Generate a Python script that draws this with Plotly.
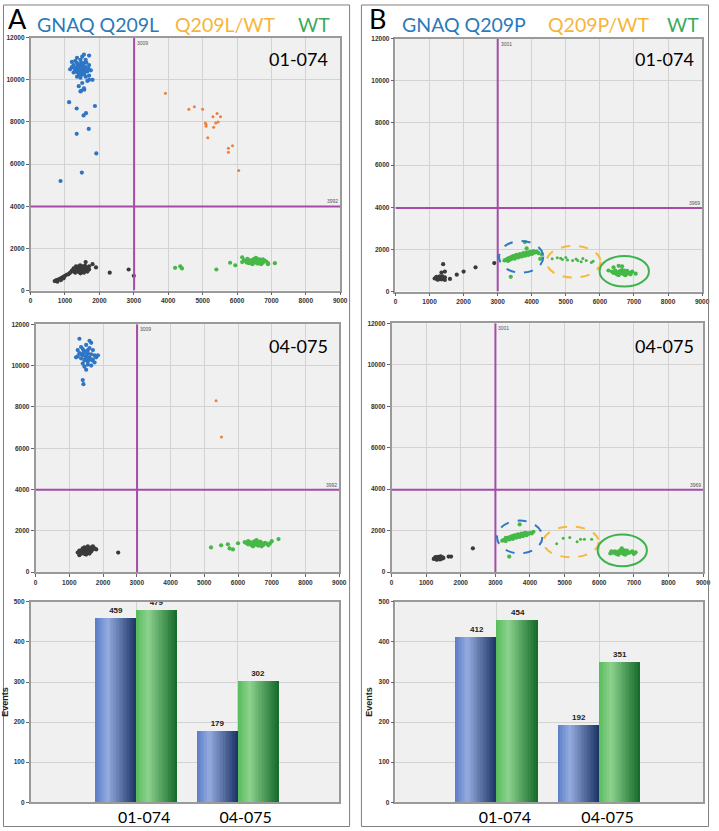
import plotly.graph_objects as go

# ---------------- DATA ----------------
samples = ["01-074", "04-075"]
A_mut_events = [459, 179]
A_wt_events = [479, 302]
B_mut_events = [412, 192]
B_wt_events = [454, 351]

thr_A = (3009, 3992)
thr_B = (3001, 3969)

x_ticks = [0, 1000, 2000, 3000, 4000, 5000, 6000, 7000, 8000, 9000]
y_ticks = [0, 2000, 4000, 6000, 8000, 10000, 12000]
bar_ticks = [0, 100, 200, 300, 400, 500]

# Panel A, sample 01-074
A1_mut_pts = [
    (1450, 10500), (1400, 10450), (1500, 10550), (1350, 10600), (1550, 10400), (1450, 10700), (1400, 10300), (1500, 10250),
    (1600, 10600), (1300, 10450), (1250, 10700), (1350, 10800), (1550, 10800), (1650, 10400), (1700, 10200), (1600, 10150),
    (1450, 10100), (1350, 10150), (1250, 10350), (1200, 10600), (1300, 10900), (1450, 10950), (1600, 10950), (1500, 11100),
    (1350, 11050), (1700, 10700), (1750, 10450), (1800, 10000), (1650, 9950), (1500, 9850), (1400, 9700), (1550, 9600),
    (1450, 9450), (1200, 10850), (1150, 10500), (1550, 11200), (1700, 11150), (1480, 10380), (1420, 10620), (1380, 10520),
    (1520, 10680), (1580, 10480), (1330, 10380), (1470, 10820), (1620, 10820), (1280, 10550), (1430, 10250), (1560, 10300),
    (1680, 10550), (1370, 10700), (1120, 8940), (1340, 8640), (1540, 8310), (1610, 8420), (1340, 7440), (1690, 7670),
    (1870, 8760), (1910, 6510), (1490, 5600), (870, 5200), (1560, 9530), (1470, 9480), (1700, 10000)]
A1_het_pts = [
    (3920, 9370), (4600, 8610), (4760, 8720), (5000, 8610), (5080, 7950), (5100, 7800), (5100, 7880), (5150, 7250),
    (5300, 8250), (5320, 7750), (5380, 7950), (5420, 8400), (5450, 8000), (5520, 8250), (5750, 6750), (5750, 6560),
    (5870, 6870), (6050, 5700)]
A1_neg_pts = [
    (1450, 950), (1400, 1000), (1500, 900), (1350, 950), (1550, 1000), (1450, 1050), (1400, 880), (1500, 1080),
    (1300, 1000), (1600, 950), (1350, 1100), (1550, 850), (1250, 900), (1650, 1050), (1450, 820), (1400, 1150),
    (1500, 1150), (1300, 850), (1600, 1100), (1200, 950), (1700, 1000), (1480, 980), (1420, 930), (1380, 1020),
    (1520, 1030), (1460, 870), (1340, 980), (1560, 920), (1250, 1050), (1650, 900), (1440, 1200), (1580, 1180),
    (1320, 1150), (1700, 1150), (1150, 850), (700, 450), (750, 500), (800, 520), (850, 560), (900, 600),
    (950, 650), (1000, 700), (1050, 750), (1100, 780), (780, 420), (880, 500), (960, 580), (1600, 1350),
    (1800, 1250), (1900, 1100), (2300, 850), (2850, 1000), (3000, 700)]
A1_wt_pts = [
    (6500, 1400), (6400, 1380), (6600, 1420), (6300, 1350), (6700, 1400), (6450, 1450), (6550, 1330), (6350, 1450),
    (6650, 1480), (6750, 1320), (6250, 1400), (6800, 1420), (6500, 1500), (6400, 1300), (6600, 1280), (6200, 1450),
    (6850, 1380), (6300, 1500), (6700, 1250), (6550, 1550), (6450, 1250), (6150, 1350), (6900, 1300), (6350, 1300),
    (6750, 1480), (6480, 1360), (6520, 1440), (6420, 1420), (6580, 1380), (6620, 1350), (6380, 1400), (6680, 1440),
    (6280, 1330), (6720, 1360), (6600, 1480), (6150, 1580), (5800, 1320), (5950, 1200), (7100, 1300), (4200, 1080),
    (4350, 1150), (4400, 1050), (5400, 1000), (6900, 1250)]

# Panel A, sample 04-075
A2_mut_pts = [
    (1500, 10450), (1400, 10500), (1600, 10400), (1350, 10350), (1550, 10600), (1450, 10700), (1650, 10550), (1300, 10600),
    (1700, 10300), (1450, 10250), (1550, 10200), (1400, 10800), (1600, 10850), (1250, 10450), (1750, 10500), (1350, 10900),
    (1500, 11000), (1650, 11100), (1300, 11300), (1550, 10050), (1450, 9950), (1500, 9800), (1650, 10000), (1800, 10400),
    (1850, 10500), (1250, 10750), (1400, 10100), (1600, 11200), (1700, 10750), (1350, 10550), (1480, 10350), (1520, 10520),
    (1580, 10300), (1420, 10620), (1680, 10250), (1400, 9300), (1420, 9100), (1750, 10150), (1200, 10400), (1550, 10750)]
A2_het_pts = [(5350, 8300), (5510, 6540)]
A2_neg_pts = [
    (1500, 1000), (1450, 1050), (1550, 950), (1400, 950), (1600, 1050), (1350, 1000), (1650, 1000), (1500, 1150),
    (1450, 880), (1550, 1100), (1300, 1050), (1700, 1100), (1400, 1150), (1600, 900), (1350, 900), (1250, 950),
    (1750, 1150), (1500, 850), (1650, 1200), (1450, 1200), (1550, 1250), (1800, 1100), (1700, 1250), (1300, 820),
    (1480, 980), (1520, 1020), (1420, 1000), (1580, 1000), (1380, 1080), (1620, 1120), (2450, 950)]
A2_wt_pts = [
    (6500, 1400), (6400, 1380), (6600, 1420), (6300, 1350), (6700, 1400), (6450, 1450), (6550, 1330), (6350, 1450),
    (6650, 1480), (6750, 1320), (6250, 1400), (6800, 1420), (6500, 1500), (6400, 1300), (6600, 1280), (6200, 1450),
    (6850, 1380), (6300, 1500), (6700, 1250), (6550, 1550), (6450, 1250), (6900, 1300), (6480, 1360), (6520, 1440),
    (6420, 1420), (6580, 1380), (6680, 1440), (6720, 1360), (5200, 1200), (5500, 1300), (5700, 1350), (5750, 1150),
    (5850, 1100), (6000, 1400), (7200, 1600), (7000, 1500), (6950, 1400)]

# Panel B, sample 01-074
B1_neg_pts = [
    (1300, 650), (1250, 620), (1350, 680), (1200, 650), (1400, 620), (1300, 720), (1250, 560), (1350, 580),
    (1150, 620), (1450, 680), (1200, 700), (1320, 600), (1280, 690), (1380, 720), (1220, 580), (1330, 650),
    (1270, 650), (1450, 550), (1400, 1300), (1350, 900), (1450, 950), (1600, 600), (1800, 800), (2000, 950),
    (2350, 1150), (2900, 1350)]
B1_mut_pts = [
    (3200, 1480), (3250, 1520), (3300, 1560), (3300, 1450), (3350, 1600), (3350, 1500), (3400, 1550), (3400, 1640),
    (3450, 1600), (3450, 1680), (3500, 1560), (3500, 1700), (3550, 1650), (3550, 1740), (3600, 1620), (3600, 1720),
    (3650, 1700), (3650, 1780), (3700, 1660), (3700, 1760), (3750, 1720), (3750, 1820), (3800, 1700), (3800, 1800),
    (3850, 1760), (3850, 1860), (3900, 1740), (3900, 1840), (3950, 1800), (3950, 1900), (4000, 1780), (4000, 1880),
    (4050, 1830), (4050, 1920), (4100, 1860), (4150, 1900), (4200, 1820), (3620, 1680), (3680, 1730), (3720, 1700),
    (3780, 1770), (3820, 1740), (3580, 1690), (3480, 1630), (3880, 1800), (3800, 2350), (3850, 2050), (4300, 1750),
    (4250, 1550), (3385, 700)]
B1_het_pts = [
    (4600, 1560), (4750, 1600), (4900, 1520), (5000, 1620), (5050, 1500), (5200, 1480), (5300, 1540), (5350, 1480),
    (5450, 1420), (5500, 1570), (5600, 1480), (5800, 1440), (5750, 1380), (4850, 1580)]
B1_wt_pts = [
    (6650, 900), (6550, 880), (6750, 920), (6450, 950), (6850, 870), (6600, 980), (6700, 820), (6500, 820),
    (6800, 980), (6400, 880), (6900, 900), (6650, 1020), (6550, 780), (6750, 780), (6350, 950), (6950, 950),
    (6600, 860), (6700, 940), (6500, 920), (6800, 850), (6450, 1000), (6900, 820), (6620, 920), (6680, 870),
    (6580, 950), (6720, 990), (6470, 860), (6780, 930), (6550, 1220), (6650, 1200), (7050, 850), (6250, 1000),
    (6400, 1150)]

# Panel B, sample 04-075
B2_neg_pts = [
    (1350, 680), (1300, 660), (1400, 700), (1250, 680), (1450, 650), (1350, 740), (1300, 600), (1400, 610),
    (1220, 640), (1480, 710), (1270, 730), (1420, 760), (1330, 620), (1380, 660), (1320, 710), (1500, 680),
    (1650, 750), (1720, 750), (2350, 1150)]
B2_mut_pts = [
    (3200, 1520), (3250, 1560), (3300, 1600), (3300, 1500), (3350, 1640), (3400, 1580), (3400, 1680), (3450, 1640),
    (3450, 1720), (3500, 1600), (3500, 1740), (3550, 1680), (3550, 1780), (3600, 1660), (3600, 1760), (3650, 1740),
    (3650, 1820), (3700, 1700), (3700, 1800), (3750, 1760), (3750, 1860), (3800, 1740), (3800, 1840), (3850, 1800),
    (3850, 1900), (3900, 1780), (3900, 1880), (3950, 1840), (4000, 1900), (4050, 1870), (4100, 1950), (3620, 1720),
    (3680, 1770), (3720, 1740), (3780, 1810), (3580, 1730), (3480, 1670), (3700, 2300), (3400, 750), (3300, 1650)]
B2_het_pts = [(4770, 1370), (4960, 1640), (5150, 1670), (5360, 1470), (5460, 1590), (5570, 1590), (5780, 1590)]
B2_wt_pts = [
    (6650, 960), (6550, 940), (6750, 980), (6450, 1000), (6850, 930), (6600, 1040), (6700, 880), (6500, 880),
    (6800, 1040), (6400, 940), (6900, 960), (6650, 1080), (6550, 840), (6750, 840), (6350, 1000), (6950, 1000),
    (6600, 920), (6700, 1000), (6500, 980), (6800, 910), (7050, 950), (6320, 900), (6620, 980), (6680, 930),
    (6580, 1010), (6720, 1050), (6470, 920), (6780, 990), (6650, 1150), (7000, 880)]

# ---------------- STYLE / LAYOUT ----------------
W, H = 719, 831
C_MUT = "#2e75c5"
C_HET = "#ee7f3c"
C_NEG = "#3a3a3a"
C_WT = "#46b847"
C_THR = "#a44ca8"
PLOT_BG = "#f0f0f0"
GRID = "#d3d3d3"
FRAME = "#9a9a9a"
TXT_FONT = "Lato"

def pxx(p):
    return p / W

def pxy(p):
    return 1 - p / H

# subplot pixel boxes: (left, right, top, bottom)
boxes = {
    1: (29, 343, 34, 289),   # A 01-074
    2: (34, 342, 323, 573),  # A 04-075
    3: (29, 342, 603, 805),  # A bars
    4: (399, 710, 35, 290),  # B 01-074
    5: (395, 711, 322, 573), # B 04-075
    6: (399, 711, 603, 805), # B bars
}

fig = go.Figure()
layout = dict(
    width=W, height=H, margin=dict(l=0, r=0, t=0, b=0),
    paper_bgcolor="white", plot_bgcolor=PLOT_BG,
    showlegend=False, barmode="overlay", bargap=0,
    shapes=[], annotations=[],
)

tickfont = dict(family="Liberation Sans", size=6.5, color="#333333", weight="bold")

for i, (l, r, t, b) in boxes.items():
    xa = "xaxis" if i == 1 else f"xaxis{i}"
    ya = "yaxis" if i == 1 else f"yaxis{i}"
    xr = "x" if i == 1 else f"x{i}"
    yr = "y" if i == 1 else f"y{i}"
    common = dict(showline=True, mirror=True, linecolor=FRAME, linewidth=1.5,
                  showgrid=True, gridcolor=GRID, gridwidth=1, zeroline=False,
                  fixedrange=True)
    if i in (3, 6):
        layout[xa] = dict(domain=[pxx(l), pxx(r)], anchor=yr, type="category",
                          range=[-1.04, 2.0] if i == 3 else [-0.99, 2.01],
                          ticks="", tickfont=dict(family=TXT_FONT, size=16, color="black"),
                          ticklabelshift=8, **common)
        layout[ya] = dict(domain=[pxy(b), pxy(t)], anchor=xr, range=[0, 500],
                          tickvals=bar_ticks, tickformat="d", ticks="outside", ticklen=3, tickcolor="#666",
                          tickfont=tickfont,
                          title=dict(text="Events", font=dict(family="Liberation Sans", size=9,
                                                               color="#222", weight="bold"), standoff=4),
                          **common)
    else:
        layout[xa] = dict(domain=[pxx(l), pxx(r)], anchor=yr, range=[0, 9000],
                          tickvals=x_ticks, tickformat="d", ticks="outside", ticklen=3, tickcolor="#666",
                          tickfont=tickfont, **common)
        layout[ya] = dict(domain=[pxy(b), pxy(t)], anchor=xr, range=[0, 12000],
                          tickvals=y_ticks, tickformat="d", ticks="outside", ticklen=3, tickcolor="#666",
                          tickfont=tickfont, **common)


def add_points(pts, color, i, size=4.2):
    xr = "x" if i == 1 else f"x{i}"
    yr = "y" if i == 1 else f"y{i}"
    fig.add_trace(go.Scatter(x=[p[0] for p in pts], y=[p[1] for p in pts], mode="markers",
                             marker=dict(color=color, size=size, line=dict(width=0)),
                             xaxis=xr, yaxis=yr, hoverinfo="skip"))


add_points(A1_neg_pts, C_NEG, 1)
add_points(A1_mut_pts, C_MUT, 1)
add_points(A1_het_pts, C_HET, 1, 3)
add_points(A1_wt_pts, C_WT, 1)
add_points(A2_neg_pts, C_NEG, 2)
add_points(A2_mut_pts, C_MUT, 2)
add_points(A2_het_pts, C_HET, 2, 3)
add_points(A2_wt_pts, C_WT, 2)
add_points(B1_neg_pts, C_NEG, 4)
add_points(B1_mut_pts, C_WT, 4)
add_points(B1_het_pts, C_WT, 4, 3)
add_points(B1_wt_pts, C_WT, 4)
add_points(B2_neg_pts, C_NEG, 5)
add_points(B2_mut_pts, C_WT, 5)
add_points(B2_het_pts, C_WT, 5, 3)
add_points(B2_wt_pts, C_WT, 5)


def hex2rgb(h):
    h = h.lstrip("#")
    return tuple(int(h[k:k + 2], 16) for k in (0, 2, 4))


def grad_color(stops, t):
    for (t0, c0), (t1, c1) in zip(stops[:-1], stops[1:]):
        if t0 <= t <= t1:
            f = (t - t0) / (t1 - t0)
            a, b = hex2rgb(c0), hex2rgb(c1)
            return "rgb(%d,%d,%d)" % tuple(round(a[k] + (b[k] - a[k]) * f) for k in range(3))
    return stops[-1][1]


BLUE_STOPS = [(0, "#5a7cc6"), (0.3, "#94abdf"), (1, "#1c3366")]
GREEN_STOPS = [(0, "#56bb5a"), (0.3, "#8cd28e"), (1, "#156a2a")]
BAR_W = 0.4
N_STRIPS = 28


def add_bars(vals, stops, base_off, i):
    xr = f"x{i}"
    yr = f"y{i}"
    sw = BAR_W / N_STRIPS
    for k in range(N_STRIPS):
        fig.add_trace(go.Bar(x=samples, y=vals, width=sw * 1.3 if k < N_STRIPS - 1 else sw,
                             offset=base_off + k * sw,
                             marker=dict(color=grad_color(stops, (k + 0.5) / N_STRIPS), line=dict(width=0)),
                             xaxis=xr, yaxis=yr, hoverinfo="skip"))
    fig.add_trace(go.Bar(x=samples, y=vals, width=BAR_W, offset=base_off,
                         marker=dict(color="rgba(0,0,0,0)", line=dict(width=0)),
                         text=[str(v) for v in vals], textposition="outside", cliponaxis=False,
                         textfont=dict(family="Liberation Sans", size=8, color="#222", weight="bold"),
                         xaxis=xr, yaxis=yr, hoverinfo="skip"))


add_bars(A_mut_events, BLUE_STOPS, -BAR_W, 3)
add_bars(A_wt_events, GREEN_STOPS, 0, 3)
add_bars(B_mut_events, BLUE_STOPS, -BAR_W, 6)
add_bars(B_wt_events, GREEN_STOPS, 0, 6)

# threshold lines
for i, (tx, ty) in [(1, thr_A), (2, thr_A), (4, thr_B), (5, thr_B)]:
    xr = "x" if i == 1 else f"x{i}"
    yr = "y" if i == 1 else f"y{i}"
    layout["shapes"].append(dict(type="line", xref=xr, yref=yr, x0=tx, x1=tx, y0=0, y1=12000,
                                 line=dict(color=C_THR, width=2)))
    layout["shapes"].append(dict(type="line", xref=xr, yref=yr, x0=0, x1=9000, y0=ty, y1=ty,
                                 line=dict(color=C_THR, width=2)))
    layout["annotations"].append(dict(xref=xr, yref=yr, x=tx, y=12000, text=str(tx), showarrow=False,
                                      xanchor="left", yanchor="top", xshift=1,
                                      font=dict(family="Liberation Sans", size=5, color="#555")))
    layout["annotations"].append(dict(xref=xr, yref=yr, x=9000, y=ty, text=str(ty), showarrow=False,
                                      xanchor="right", yanchor="bottom",
                                      font=dict(family="Liberation Sans", size=5, color="#555")))

# gates (ellipses) in panel B
gates = [
    (4, (3040, 4340, 894, 2400), "#2e78c8", "dash"),
    (4, (4430, 6020, 660, 2165), "#f6b93b", "dash"),
    (4, (5990, 7440, 235, 1690), "#3cb44b", "solid"),
    (5, (3047, 4358, 908, 2486), "#2e78c8", "dash"),
    (5, (4386, 5981, 717, 2199), "#f6b93b", "dash"),
    (5, (5953, 7377, 287, 1816), "#3cb44b", "solid"),
]
for i, (x0, x1, y0, y1), col, dash in gates:
    layout["shapes"].append(dict(type="circle", xref=f"x{i}", yref=f"y{i}", x0=x0, x1=x1, y0=y0, y1=y1,
                                 line=dict(color=col, width=2, dash=dash)))

# panel frames
for l, r in [(1.5, 352.5), (364.5, 716.5)]:
    layout["shapes"].append(dict(type="rect", xref="paper", yref="paper", x0=pxx(l), x1=pxx(r),
                                 y0=pxy(829.5), y1=pxy(1), line=dict(color="#7f7f7f", width=1)))

# headers
def head(text, x, y, size, color):
    layout["annotations"].append(dict(xref="paper", yref="paper", x=pxx(x), y=pxy(y), text=text,
                                      showarrow=False, xanchor="left", yanchor="middle",
                                      font=dict(family=TXT_FONT, size=size, color=color)))

head("A", 4, 15, 27, "black")
head("GNAQ Q209L", 33, 21, 19.5, "#2a7ab9")
head("Q209L/WT", 173, 21, 19.5, "#f7b538")
head("WT", 298, 21, 19.5, "#3caa5a")
head("B", 370, 15, 27, "black")
head("GNAQ Q209P", 404, 21, 19.5, "#2a7ab9")
head("Q209P/WT", 552, 21, 19.5, "#f7b538")
head("WT", 672, 21, 19.5, "#3caa5a")

# sample labels inside scatter plots
head("01-074", 269, 55, 18, "black")
head("04-075", 269, 345, 18, "black")
head("01-074", 640, 55, 18, "black")
head("04-075", 640, 345, 18, "black")

fig.update_layout(**layout)
fig.write_html("out.html", config={"displayModeBar": False},
               post_script="document.body.style.margin='0px';")
